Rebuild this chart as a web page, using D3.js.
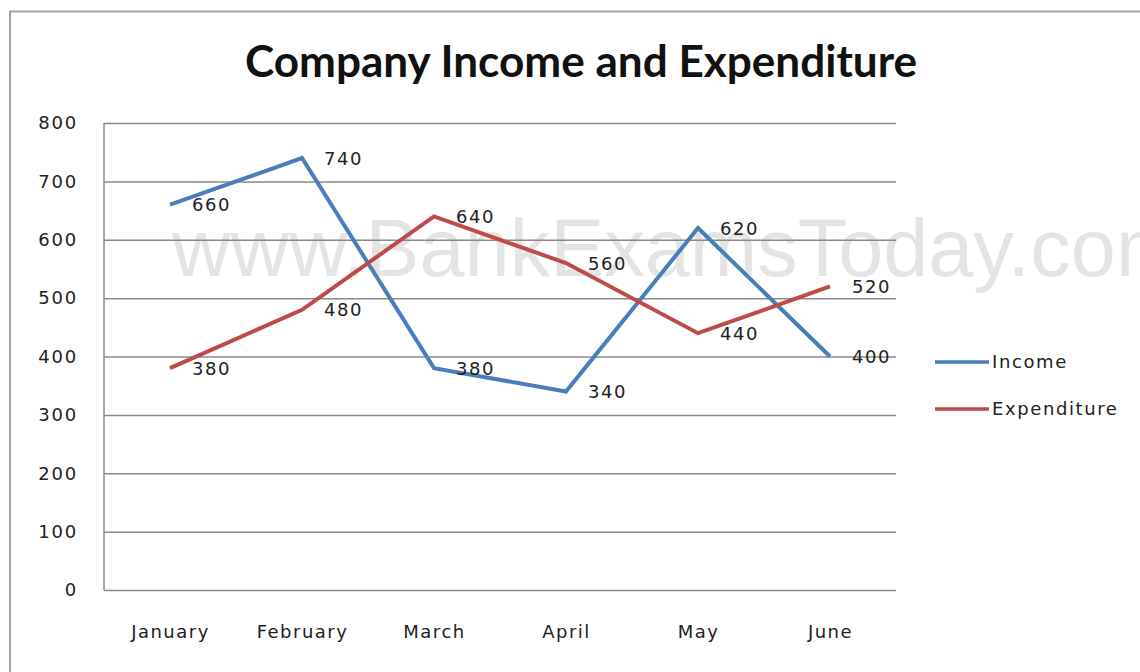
<!DOCTYPE html>
<html>
<head>
<meta charset="utf-8">
<script src="https://cdn.jsdelivr.net/npm/d3@7/dist/d3.min.js"></script>
<style>
  html, body { margin: 0; padding: 0; background: #fff; }
  svg { display: block; }
</style>
</head>
<body>
<svg id="chart" width="1140" height="672"></svg>
<script>
const categories = ["January", "February", "March", "April", "May", "June"];
const incomeValues = [660, 740, 380, 340, 620, 400];
const expenditureValues = [380, 480, 640, 560, 440, 520];
const yTicks = [0, 100, 200, 300, 400, 500, 600, 700, 800];
const seriesNames = ["Income", "Expenditure"];
const seriesColors = ["#4A7EBB", "#BE4B48"];
const titleText = "Company Income and Expenditure";
const watermarkText = "www.BankExamsToday.com";

const series = [
  { name: seriesNames[0], values: incomeValues, color: seriesColors[0] },
  { name: seriesNames[1], values: expenditureValues, color: seriesColors[1] }
];

const svg = d3.select("#chart");
const plot = { left: 104, right: 896, top: 123, bottom: 590 };
const labelFont = "'DejaVu Sans', Verdana, sans-serif";

// outer border
svg.append("rect")
  .attr("x", 10).attr("y", 11.5)
  .attr("width", 1200).attr("height", 700)
  .attr("fill", "#fff").attr("stroke", "#a3a3a3").attr("stroke-width", 2);

// watermark
svg.append("text")
  .attr("x", 172).attr("y", 276)
  .attr("font-family", "'Liberation Sans', Arial, sans-serif")
  .attr("font-size", 81)
  .attr("fill", "#e4e4e4")
  .text(watermarkText);

const x = d3.scalePoint().domain(categories).range([plot.left, plot.right]).padding(0.5);
const y = d3.scaleLinear().domain([0, 800]).range([plot.bottom, plot.top]);

// gridlines
const grid = svg.append("g")
  .attr("transform", `translate(${plot.left},0)`)
  .call(d3.axisLeft(y).tickValues(yTicks).tickSize(-(plot.right - plot.left)).tickFormat(""));
grid.select(".domain").remove();
grid.selectAll(".tick line").attr("stroke", "#8a8a8a").attr("stroke-width", 1.5);

// left axis line
svg.append("line")
  .attr("x1", plot.left).attr("x2", plot.left)
  .attr("y1", plot.top).attr("y2", plot.bottom)
  .attr("stroke", "#8a8a8a").attr("stroke-width", 1.5);

// y tick labels
const yAxis = svg.append("g")
  .attr("transform", `translate(${plot.left},0)`)
  .call(d3.axisLeft(y).tickValues(yTicks).tickSize(0).tickPadding(26));
yAxis.select(".domain").remove();
yAxis.selectAll("text")
  .attr("font-family", labelFont).attr("font-size", 18)
  .attr("letter-spacing", 1.8).attr("fill", "#222");

// x tick labels
const xAxis = svg.append("g")
  .attr("transform", `translate(0,${plot.bottom})`)
  .call(d3.axisBottom(x).tickSize(0).tickPadding(35));
xAxis.select(".domain").remove();
xAxis.selectAll("text")
  .attr("font-family", labelFont).attr("font-size", 18)
  .attr("letter-spacing", 1.5).attr("fill", "#222");

// lines
const line = d3.line().x((d, i) => x(categories[i])).y(d => y(d));
series.forEach(s => {
  svg.append("path")
    .datum(s.values)
    .attr("d", line)
    .attr("fill", "none")
    .attr("stroke", s.color)
    .attr("stroke-width", 4)
    .attr("stroke-linejoin", "miter");
});

// data labels
series.forEach(s => {
  svg.append("g").selectAll("text")
    .data(s.values)
    .join("text")
    .attr("x", (d, i) => x(categories[i]) + 22)
    .attr("y", d => y(d))
    .attr("dy", "0.36em")
    .attr("font-family", labelFont).attr("font-size", 18)
    .attr("letter-spacing", 1.5).attr("fill", "#222")
    .text(d => d);
});

// legend
const legend = svg.append("g");
series.forEach((s, i) => {
  const ly = 362 + i * 47;
  legend.append("line")
    .attr("x1", 935).attr("x2", 989)
    .attr("y1", ly).attr("y2", ly)
    .attr("stroke", s.color).attr("stroke-width", 3.5);
  legend.append("text")
    .attr("x", 992).attr("y", ly).attr("dy", "0.36em")
    .attr("font-family", labelFont).attr("font-size", 18)
    .attr("letter-spacing", 1.6).attr("fill", "#222")
    .text(s.name);
});

// title
svg.append("text")
  .attr("x", 245).attr("y", 77)
  .attr("font-family", "Lato, 'Open Sans', sans-serif")
  .attr("font-weight", "bold")
  .attr("font-size", 43)
  .attr("textLength", 672)
  .attr("lengthAdjust", "spacingAndGlyphs")
  .attr("fill", "#111")
  .text(titleText);
</script>
</body>
</html>
